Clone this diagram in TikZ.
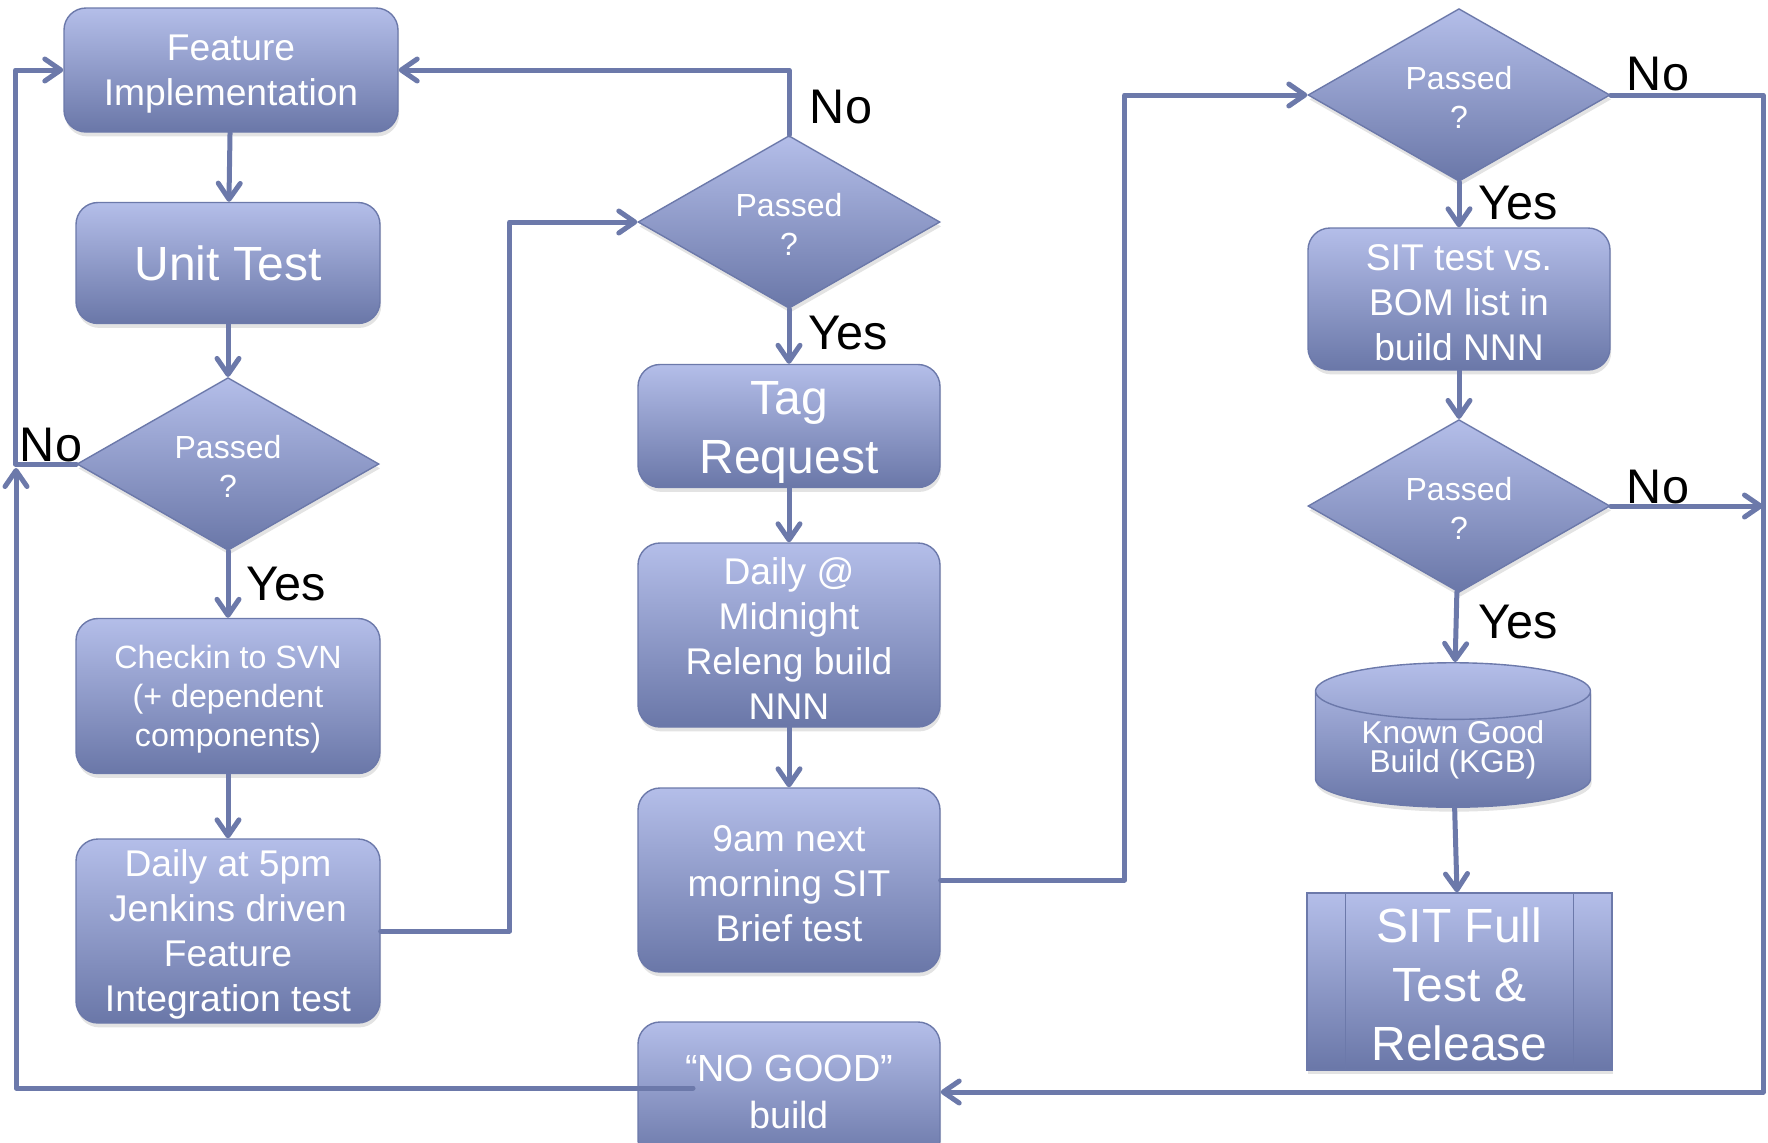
\documentclass[tikz,border=0pt]{standalone}
\usepackage{fontspec}
\setmainfont{Liberation Sans}
\usetikzlibrary{shapes.geometric,arrows.meta,shadows}

\definecolor{boxtop}{HTML}{B4BEE9}
\definecolor{boxbot}{HTML}{6A77A8}
\definecolor{edgeline}{HTML}{6C79AA}

\newcommand{\fqs}{\fontsize{16}{19.4}\selectfont}
\newcommand{\fci}{\fontsize{16.1}{19.5}\selectfont}
\newcommand{\fmid}{\fontsize{18.6}{22.5}\selectfont}
\newcommand{\fng}{\fontsize{18.9}{23.3}\selectfont}
\newcommand{\fkgb}{\fontsize{15.8}{14.7}\selectfont}
\newcommand{\fbig}{\fontsize{24}{29.5}\selectfont}
\newcommand{\flbl}{\fontsize{24.3}{28}\selectfont}
% taller first line, pushes the text block down a little
\newcommand{\up}[1][16.8pt]{\rule{0pt}{#1}}

\tikzset{
  shaded/.style={draw=edgeline, line width=0.7pt, top color=boxtop, bottom color=boxbot,
    text=white, align=center,
    drop shadow={opacity=0.22, shadow xshift=0.6pt, shadow yshift=-2.2pt}},
  flowbox/.style={shaded, rounded corners=11pt},
  decision/.style={shaded, diamond, minimum width=151pt, minimum height=84.5pt, font=\fqs},
  store/.style={shaded, cylinder, shape border rotate=90, shape aspect=0.31, anchor=shape center},
  process/.style={shaded, rectangle},
  conn/.style={draw=edgeline, line width=2.5pt, line cap=round, line join=round,
    -{Straight Barb[round,length=8pt,width=11pt]}},
  lbl/.style={font=\flbl, text=black}
}

\begin{document}
\begin{tikzpicture}[x=0.5pt,y=-0.5pt]
\tikzstyle{every node}+=[inner sep=0pt]
\useasboundingbox (0,0) rectangle (1768,1142);

\node[flowbox, minimum width=167pt, minimum height=62pt, font=\fmid] (fi) at (231,70) {\up Feature\\Implementation};
\node[flowbox, minimum width=152pt, minimum height=60.5pt, font=\fbig] (ut) at (228,263) {Unit Test};
\node[decision] (d1) at (228,464) {\up[13.6pt]Passed\\?};
\node[flowbox, minimum width=152pt, minimum height=77.5pt, font=\fci] (ci) at (228,696) {\up[15pt]Checkin to SVN\\(+ dependent\\components)};
\node[flowbox, minimum width=152pt, minimum height=92pt, font=\fmid] (jenkins) at (228,931) {\up Daily at 5pm\\Jenkins driven\\Feature\\Integration test};

\node[decision] (d2) at (789,222) {\up[13.6pt]Passed\\?};
\node[flowbox, minimum width=151pt, minimum height=61.5pt, font=\fbig] (tag) at (789,426) {\up[22.5pt]Tag\\Request};
\node[flowbox, minimum width=151pt, minimum height=92pt, font=\fmid] (nightly) at (789,635) {\up Daily @\\Midnight\\Releng build\\NNN};
\node[flowbox, minimum width=151pt, minimum height=92pt, font=\fmid] (brief) at (789,880) {\up 9am next\\morning SIT\\Brief test};
\node[flowbox, minimum width=151pt, minimum height=70pt, font=\fng] (nogood) at (789,1092) {“NO GOOD”\\build};

\node[decision] (d3) at (1459,95) {\up[13.6pt]Passed\\?};
\node[flowbox, minimum width=151pt, minimum height=71pt, font=\fmid] (sitbom) at (1459,299) {\up SIT test vs.\\BOM list in\\build NNN};
\node[decision] (d4) at (1459,506) {\up[13.6pt]Passed\\?};
\node[store, minimum width=137.5pt, minimum height=72pt, font=\fkgb] (kgb) at (1453,735) {Known Good\\Build (KGB)};
\node[process, minimum width=152.5pt, minimum height=88.5pt, font=\fbig] (sitfull) at (1459.5,981.5) {\up[20pt]SIT Full\\Test \&\\Release};
\draw[draw=edgeline, line width=0.7pt] ([xshift=19.5pt]sitfull.north west) -- ([xshift=19.5pt]sitfull.south west);
\draw[draw=edgeline, line width=0.7pt] ([xshift=-19.5pt]sitfull.north east) -- ([xshift=-19.5pt]sitfull.south east);

\coordinate (rail) at (1763,506);
\coordinate (ngtail) at (693,1088);
\coordinate (junc) at (16,468);

\draw[conn] (fi) -- (ut);
\draw[conn] (ut) -- (d1);
\draw[conn] (d1) -- (ci);
\draw[conn] (ci) -- (jenkins);
\draw[conn] (d1.west) -- ++(-61,0) |- (fi.west);
\draw[conn] (jenkins.east) -- ++(129,0) |- (d2.west);
\draw[conn] (d2.north) |- (fi.east);
\draw[conn] (d2) -- (tag);
\draw[conn] (tag) -- (nightly);
\draw[conn] (nightly) -- (brief);
\draw[conn] (brief.east) -- ++(184,0) |- (d3.west);
\draw[conn] (d3.east) -- (1763,95) |- (nogood.east);
\draw[conn] (d3) -- (sitbom);
\draw[conn] (sitbom) -- (d4);
\draw[conn] (d4.east) -- (rail);
\draw[conn] (d4) -- (kgb);
\draw[conn] (kgb) -- (sitfull);
\draw[conn] (ngtail) -| (junc);

\node[lbl] (no1) at (51,445) {No};
\node[lbl] (yes1) at (286,584) {Yes};
\node[lbl] (no2) at (841,107) {No};
\node[lbl] (yes2) at (848,333) {Yes};
\node[lbl] (no3) at (1658,74) {No};
\node[lbl] (yes3) at (1518,203) {Yes};
\node[lbl] (no4) at (1658,487) {No};
\node[lbl] (yes4) at (1518,622) {Yes};
\end{tikzpicture}
\end{document}
